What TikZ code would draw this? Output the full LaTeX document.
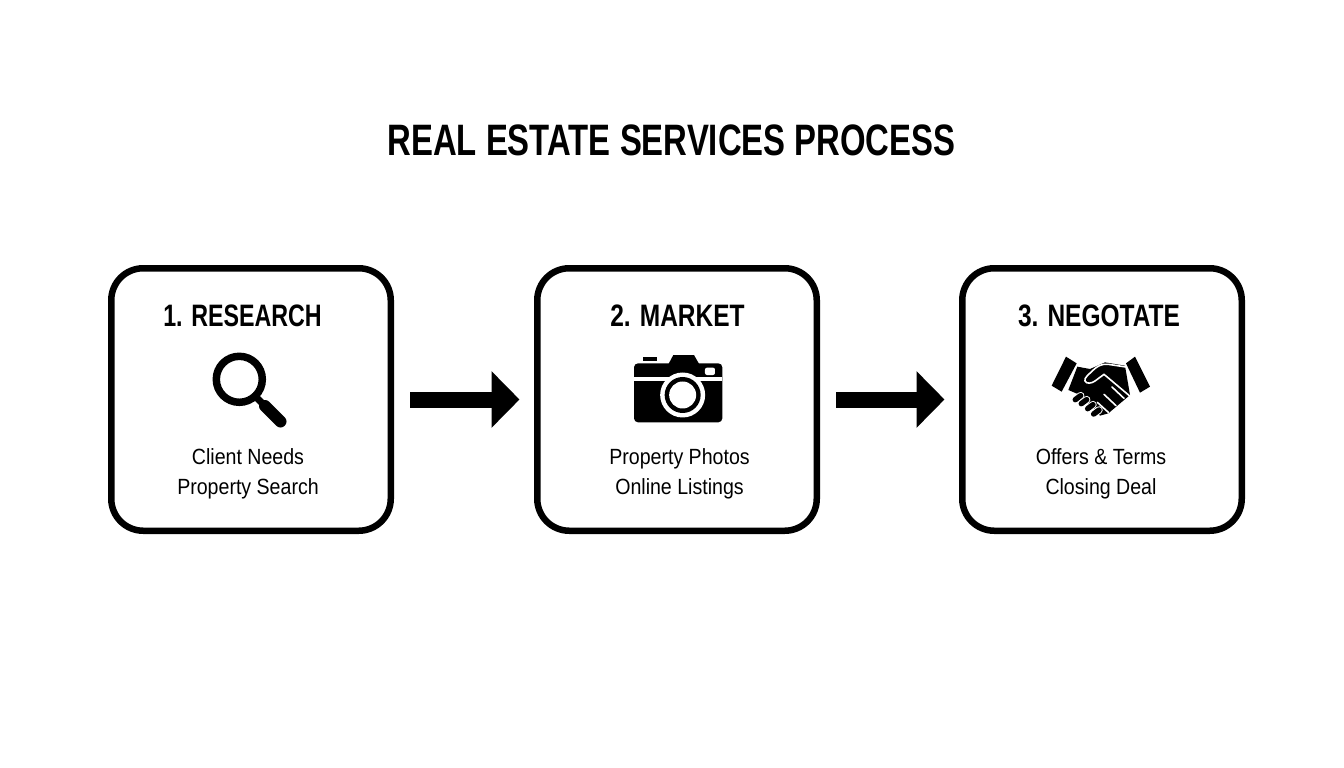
\documentclass[tikz,border=0pt]{standalone}
\usepackage{fontspec}
\setmainfont{Liberation Sans}
\newfontfamily\titlefont[FakeStretch=0.747]{Liberation Sans Bold}
\newfontfamily\headfont[FakeStretch=0.75]{Liberation Sans Bold}
\newfontfamily\headwidefont[FakeStretch=0.79]{Liberation Sans Bold}
\newfontfamily\labelfont[FakeStretch=0.89]{Liberation Sans}
\usetikzlibrary{arrows.meta}

\begin{document}
\begin{tikzpicture}
[x=1pt,y=-1pt,
  stepbox/.style={draw,line width=6.5pt,rounded corners=32pt,minimum width=279.5pt,minimum height=262.5pt},
  stephead/.style={font=\headfont\fontsize{31}{31}\selectfont},
  stepheadwide/.style={font=\headwidefont\fontsize{31}{31}\selectfont},
  stepline/.style={font=\labelfont\fontsize{22}{30}\selectfont,align=center},
  flow/.style={line width=16pt,-{Triangle[length=28pt,width=55pt]},shorten <=16pt,shorten >=14.5pt},
  halo/.style={white,line width=1.6pt,line cap=round,line join=round},
  finger/.style={line width=5.5pt,line cap=round}]
  \useasboundingbox (0,0) rectangle (1344,768);

  \node[font=\titlefont\fontsize{44}{44}\selectfont] (title) at 	(671.5,140) {REAL ESTATE SERVICES PROCESS};

  \node[stepbox] (research) at 		(251,399.5) {};
  \node[stepbox] (market) at 		(677,399.5) {};
  \node[stepbox] (negotiate) at 	(1102,399.5) {};

  \node[stephead] (researchhead) at 	(242.5,316) {1. RESEARCH};
  \node[stepheadwide] (markethead) at 	(677.5,316) {2. MARKET};
  \node[stepheadwide] (negotiatehead) at 	(1099,316) {3. NEGOTATE};

  \node[stepline] (researchtext) at 	(248,474) {Client Needs\\Property Search};
  \node[stepline] (markettext) at 	(679.5,474) {Property Photos\\Online Listings};
  \node[stepline] (negotiatetext) at 	(1101,474) {Offers \& Terms\\Closing Deal};

  \foreach \from/\to in {research/market,
      market/negotiate}
     \draw[flow] (\from) -- (\to);

  % magnifier
  \draw[line width=7.5pt] (239.3,379.3) circle (23pt);
  \draw[line width=7pt] (256,397) -- (265,406);
  \draw[line width=12pt,line cap=round] (265,406) -- (280.5,421.5);

  % camera
  \begin{scope}[shift={(620,345)},x=0.3333pt,y=-0.3333pt]
    \fill[rounded corners=4pt] (42,55) rectangle (307,232);
    \fill (145,58) -- (160,30) -- (222,30) -- (238,58) -- cycle;
    \fill (68,35) rectangle (112,48);
    \fill[white] (42,97) rectangle (307,108);
    \fill[white,rounded corners=2pt] (255,68) rectangle (285,90);
    \fill[white] (188,150) circle (22.5pt);
    \fill (188,150) circle (18pt);
    \fill[white] (188,150) circle (13.5pt);
  \end{scope}

  % handshake
  \begin{scope}[shift={(1040,345)},x=0.3333pt,y=-0.3333pt]
    \fill (78,35) -- (110,55) -- (65,140) -- (35,122) -- cycle;
    \fill (285,35) -- (258,55) -- (300,143) -- (330,125) -- cycle;
    \fill (112,65) -- (150,72) -- (195,52) -- (255,62) -- (270,150) -- (205,205) -- (180,212) -- (120,150) -- (85,135) -- cycle;
    \draw[halo] (258,66) -- (205,58) .. controls (185,55) and (170,65) .. (160,75) .. controls (150,85) and (130,100) .. (135,108) .. controls (140,118) and (155,115) .. (165,108) -- (192,88) -- (268,152);
    \draw[halo] (216,126) -- (252,160);
    \draw[halo] (192,148) -- (228,182);
    \draw[halo] (172,172) -- (205,202);
    \foreach \fx/\fy/\gx/\gy in {106/164/122/152,124/176/140/164,143/191/159/179,161/207/177/195} {
      \draw[white,line width=7.5pt,line cap=round] (\fx,\fy) -- (\gx,\gy);
      \draw[finger] (\fx,\fy) -- (\gx,\gy);
    }
  \end{scope}

\end{tikzpicture}
\end{document}
